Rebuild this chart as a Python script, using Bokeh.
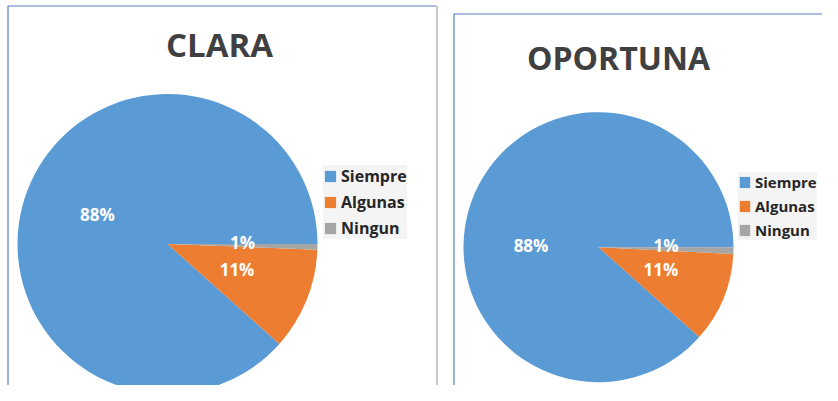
import math
from bokeh.plotting import figure
from bokeh.models import ColumnDataSource, Range1d, Legend, LegendItem
from bokeh.core.properties import value
from bokeh.embed import file_html
from bokeh.resources import INLINE

# ---- data ----
categories = ["Siempre", "Algunas", "Ningun"]
clara_values = [88.4, 11.0, 0.6]
clara_labels = ["88%", "11%", "1%"]
oportuna_values = [88.4, 10.8, 0.8]
oportuna_labels = ["88%", "11%", "1%"]
titles = ["CLARA", "OPORTUNA"]

# ---- style ----
colors = ["#5B9BD5", "#ED7D31", "#A5A5A5"]
H = 401  # data y = H - pixel y
W_FIG, H_FIG = 822, 385

p = figure(width=W_FIG, height=H_FIG, x_range=Range1d(0, W_FIG), y_range=Range1d(H - H_FIG, H),
           output_backend="svg", toolbar_location=None, min_border=0,
           x_axis_location=None, y_axis_location=None)
p.grid.visible = False
p.outline_line_color = None
p.background_fill_color = "white"

# panel frames
blue_frame = "#5A7FC0"
p.line(x=[7.5, 7.5, 436], y=[0, H - 5.5, H - 5.5], line_color=blue_frame, line_width=1.2)
p.line(x=[436.5, 436.5], y=[0, H - 5.5], line_color="#C8C8C8", line_width=2)
p.line(x=[453.5, 453.5, 840], y=[0, H - 13.5, H - 13.5], line_color=blue_frame, line_width=1.2)


def pie(cx, cy_px, r, vals, labels, title, title_x, title_mid, title_size,
        legend_loc, legend_spacing, legend_font, legend_glyph, legend_pad, legend_lw,
        label_angle_override):
    cy = H - cy_px
    total = sum(vals)
    starts, ends = [], []
    acc = 0.0
    for v in vals:
        starts.append(2 * math.pi * acc / total)
        acc += v
        ends.append(2 * math.pi * acc / total)
    src = ColumnDataSource(dict(x=[cx] * 3, y=[cy] * 3, start=starts, end=ends,
                                color=colors, cat=categories))
    rend = p.wedge(x="x", y="y", radius=r, start_angle="start", end_angle="end",
                   fill_color="color", line_color=None, source=src)
    # data labels at half radius along mid angle
    lx, ly = [], []
    for i, (s, e) in enumerate(zip(starts, ends)):
        m = (s + e) / 2
        if label_angle_override[i] is not None:
            m = math.radians(label_angle_override[i])
        lx.append(cx + 0.5 * r * math.cos(m))
        ly.append(cy + 0.5 * r * math.sin(m) + 3)
    p.text(x=lx, y=ly, text=labels, text_color="white", text_font=value("Open Sans"),
           text_font_style="bold", text_font_size="17px", text_align="center",
           text_baseline="middle")
    p.text(x=[title_x], y=[H - title_mid], text=[title], text_color="#404040",
           text_font=value("Open Sans"), text_font_style="bold",
           text_font_size=title_size, text_align="center", text_baseline="middle")
    items = [LegendItem(label=c, renderers=[rend], index=i) for i, c in enumerate(categories)]
    leg = Legend(items=items, location=legend_loc, orientation="vertical",
                 background_fill_color="#F4F4F4", background_fill_alpha=1.0,
                 border_line_color=None, padding=legend_pad, margin=0, spacing=legend_spacing,
                 glyph_width=legend_glyph, glyph_height=14, label_height=20, label_standoff=4,
                 label_width=legend_lw,
                 label_text_font="Open Sans", label_text_font_style="bold",
                 label_text_font_size=legend_font, label_text_color="#262626")
    p.add_layout(leg)


pie(167, 243.5, 150, clara_values, clara_labels, titles[0], 219, 43.5, "33px",
    (323, 146), 4, "16px", 14, 8, 66, [None, None, None])
pie(598, 246.7, 135, oportuna_values, oportuna_labels, titles[1], 618, 57, "32px",
    (738, 145), 4, "15px", 13, 6, 55, [181, None, None])

open("out.html", "w").write(file_html(p, INLINE))
